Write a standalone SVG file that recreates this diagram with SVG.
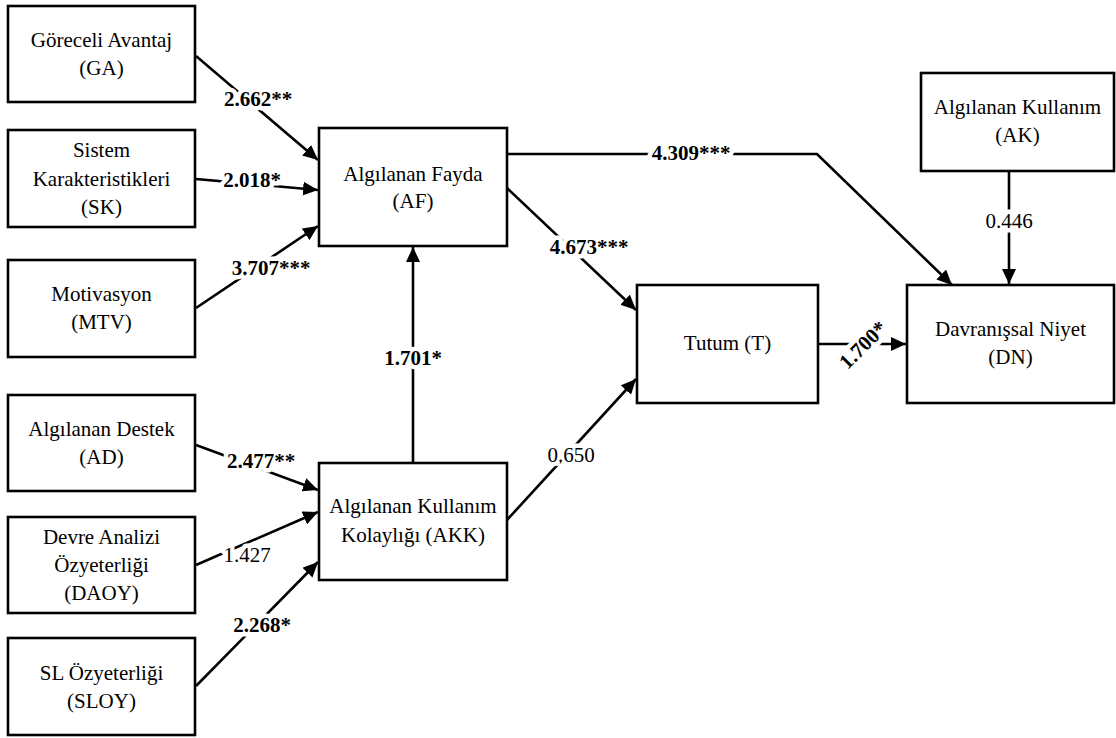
<svg xmlns="http://www.w3.org/2000/svg" width="1116" height="738" viewBox="0 0 1116 738">
<style>
.box{fill:#fff;stroke:#000;stroke-width:2.6}
.t{font-size:21px;fill:#000;text-anchor:middle}
.c{fill:none;stroke:#000;stroke-width:2.6}
.lb{font-size:21px;fill:#000;text-anchor:middle;stroke:#fff;stroke-width:9;paint-order:stroke;stroke-linejoin:round}
.b{font-weight:bold}
</style>
<defs>
<marker id="ah" markerUnits="userSpaceOnUse" markerWidth="16" markerHeight="14" refX="15" refY="7" orient="auto">
<path d="M0,0 L15,7 L0,14 z" fill="#000"/>
</marker>
</defs>
<rect width="1116" height="738" fill="#fff"/>
<g font-family="Liberation Serif, Times New Roman, serif">
<g id="connectors">
<line class="c" x1="196" y1="56" x2="318" y2="160" marker-end="url(#ah)"/>
<line class="c" x1="196" y1="179" x2="318" y2="190" marker-end="url(#ah)"/>
<line class="c" x1="196" y1="308" x2="318" y2="226" marker-end="url(#ah)"/>
<line class="c" x1="196" y1="445" x2="318" y2="490" marker-end="url(#ah)"/>
<line class="c" x1="196" y1="565" x2="318" y2="512" marker-end="url(#ah)"/>
<line class="c" x1="196" y1="686" x2="318" y2="562" marker-end="url(#ah)"/>
<line class="c" x1="413" y1="463" x2="413" y2="247" marker-end="url(#ah)"/>
<line class="c" x1="507" y1="188" x2="636" y2="310" marker-end="url(#ah)"/>
<polyline class="c" points="507,154 817,154 952,285" marker-end="url(#ah)"/>
<line class="c" x1="507" y1="520" x2="636" y2="379" marker-end="url(#ah)"/>
<line class="c" x1="818" y1="344" x2="906" y2="344" marker-end="url(#ah)"/>
<line class="c" x1="1009" y1="171" x2="1009" y2="284" marker-end="url(#ah)"/>
<text class="lb b" x="258" y="106">2.662**</text>
<text class="lb b" x="252" y="187">2.018*</text>
<text class="lb b" x="271" y="275">3.707***</text>
<text class="lb b" x="261" y="468">2.477**</text>
<text class="lb" x="247" y="562">1.427</text>
<text class="lb b" x="262" y="632">2.268*</text>
<text class="lb b" x="413" y="365">1.701*</text>
<text class="lb b" x="589" y="254">4.673***</text>
<text class="lb b" x="691" y="160">4.309***</text>
<text class="lb" x="571" y="462">0.650</text>
<text class="lb" x="1009" y="228">0.446</text>
<text class="lb b" x="0" y="0" transform="translate(863,345) rotate(-45) translate(0,7)">1.700*</text>
</g>
<g id="GA"><rect class="box" x="8" y="6" width="187" height="96"/><text class="t" x="101.5" y="47">Göreceli Avantaj</text><text class="t" x="101.5" y="75">(GA)</text></g>
<g id="SK"><rect class="box" x="8" y="130" width="187" height="97"/><text class="t" x="101.5" y="157">Sistem</text><text class="t" x="101.5" y="186">Karakteristikleri</text><text class="t" x="101.5" y="214">(SK)</text></g>
<g id="MTV"><rect class="box" x="8" y="260" width="187" height="97"/><text class="t" x="101.5" y="301">Motivasyon</text><text class="t" x="101.5" y="329">(MTV)</text></g>
<g id="AD"><rect class="box" x="8" y="395" width="187" height="96"/><text class="t" x="101.5" y="436">Algılanan Destek</text><text class="t" x="101.5" y="464">(AD)</text></g>
<g id="DAOY"><rect class="box" x="8" y="517" width="187" height="96"/><text class="t" x="101.5" y="544">Devre Analizi</text><text class="t" x="101.5" y="572">Özyeterliği</text><text class="t" x="101.5" y="600">(DAOY)</text></g>
<g id="SLOY"><rect class="box" x="8" y="638" width="187" height="97"/><text class="t" x="101.5" y="680">SL Özyeterliği</text><text class="t" x="101.5" y="708">(SLOY)</text></g>
<g id="AF"><rect class="box" x="319" y="128" width="188" height="118"/><text class="t" x="413" y="181">Algılanan Fayda</text><text class="t" x="413" y="208">(AF)</text></g>
<g id="AKK"><rect class="box" x="319" y="463" width="188" height="117"/><text class="t" x="413" y="513">Algılanan Kullanım</text><text class="t" x="413" y="542">Kolaylığı (AKK)</text></g>
<g id="T"><rect class="box" x="637" y="285" width="181" height="118"/><text class="t" x="727.5" y="350">Tutum (T)</text></g>
<g id="DN"><rect class="box" x="907" y="285" width="207" height="118"/><text class="t" x="1010.5" y="336">Davranışsal Niyet</text><text class="t" x="1010.5" y="364">(DN)</text></g>
<g id="AK"><rect class="box" x="921" y="73" width="193" height="98"/><text class="t" x="1017.5" y="114">Algılanan Kullanım</text><text class="t" x="1017.5" y="142">(AK)</text></g>
</g>
</svg>
